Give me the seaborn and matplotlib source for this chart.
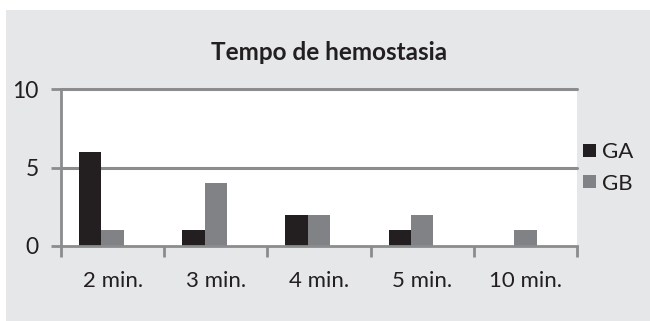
import matplotlib
matplotlib.use("Agg")
import matplotlib.pyplot as plt
import matplotlib.patches as mpatches
import seaborn as sns
import pandas as pd

categories = ["2 min.", "3 min.", "4 min.", "5 min.", "10 min."]
ga_values = [6, 1, 2, 1, 0]
gb_values = [1, 4, 2, 2, 1]
series_names = ["GA", "GB"]
y_ticks = [0, 5, 10]

df = pd.DataFrame({
    "Tempo": categories * 2,
    "Valor": ga_values + gb_values,
    "Grupo": [series_names[0]] * len(categories) + [series_names[1]] * len(categories),
})

sns.set_theme(style="white")
plt.rcParams["font.family"] = ["Lato", "DejaVu Sans"]

BG = "#e6e7e8"
AXIS = "#8a8c8e"
TEXT = "#231f20"
# an empty third slot keeps each pair to the left of its category centre
hue_order = series_names + ["_vazio"]
palette = {"GA": "#231f20", "GB": "#808285", "_vazio": "#ffffff"}

fig = plt.figure(figsize=(6.5, 3.21), dpi=100, facecolor="white")
# light grey chart panel behind everything
fig.patches.append(mpatches.Rectangle((6 / 650, 0), 1 - 6 / 650, 1 - 10 / 321,
                                      transform=fig.transFigure, facecolor=BG,
                                      edgecolor="none", zorder=-10))

ax = fig.add_axes([61 / 650, 1 - 246 / 321, (577 - 61) / 650, (246 - 89) / 321])
ax.set_facecolor("white")

sns.barplot(data=df, x="Tempo", y="Valor", hue="Grupo", hue_order=hue_order,
            palette=palette, width=0.65, gap=0, ax=ax, edgecolor="none",
            saturation=1, legend=False)

ax.set_xlim(-0.5, len(categories) - 0.5)
ax.set_ylim(0, 10)
ax.set_yticks(y_ticks)
ax.set_xlabel("")
ax.set_ylabel("")

for y in [5, 10]:
    ax.axhline(y, color=AXIS, lw=2.2, zorder=0.5, clip_on=False)

for side in ["top", "right"]:
    ax.spines[side].set_visible(False)
for side in ["left", "bottom"]:
    ax.spines[side].set_color(AXIS)
    ax.spines[side].set_linewidth(2)

# category boundary ticks on the x axis
ax.set_xticks([i - 0.5 for i in range(len(categories) + 1)], minor=True)
ax.tick_params(axis="x", which="minor", length=8, width=2, color=AXIS, direction="out", bottom=True)
ax.tick_params(axis="x", which="major", length=0, pad=18, labelsize=16, labelcolor=TEXT)
ax.tick_params(axis="y", length=7, width=2, color=AXIS, direction="out", pad=9,
               labelsize=16.5, labelcolor=TEXT, left=True)

fig.text(329 / 650, 1 - 52 / 321, "Tempo de hemostasia", fontsize=17.5,
         fontweight="bold", color=TEXT, ha="center", va="center")

handles = [mpatches.Patch(facecolor=palette[n], edgecolor="none", label=n) for n in series_names]
fig.legend(handles=handles, loc="center left", bbox_to_anchor=(579 / 650, 1 - 168 / 321),
           frameon=False, fontsize=16, handlelength=0.55, handleheight=0.55,
           handletextpad=0.3, labelspacing=0.5, labelcolor=TEXT, borderaxespad=0,
           borderpad=0.2)

fig.savefig("out.png", dpi=100, facecolor="white")
